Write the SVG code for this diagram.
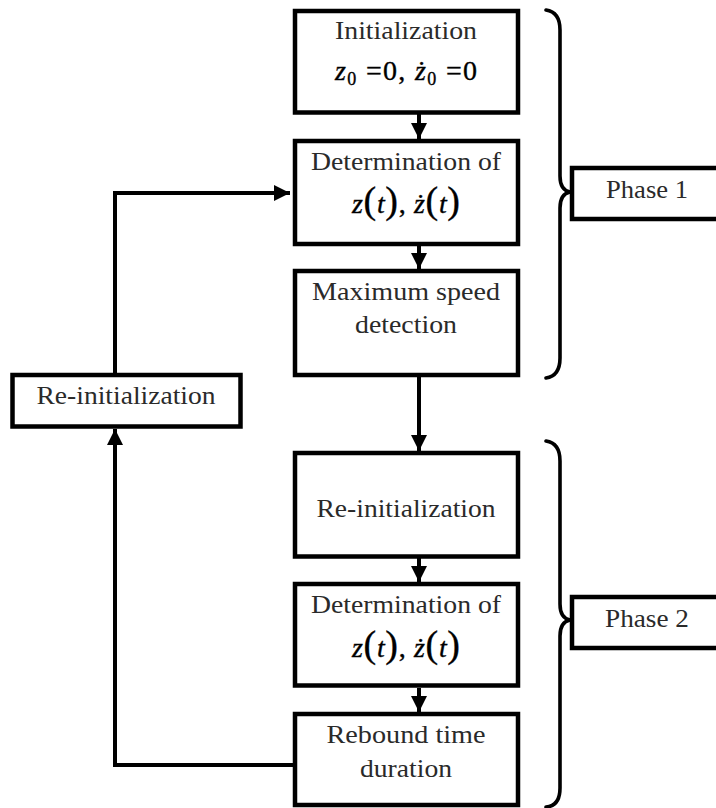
<svg xmlns="http://www.w3.org/2000/svg" width="716" height="808" viewBox="0 0 716 808">
  <style>
    .box { fill: #fff; stroke: #000; stroke-width: 4.5; }
    .lbl { font-family: "Liberation Serif", "Times New Roman", serif; font-size: 26px; fill: #2a2a2a; text-anchor: middle; }
    .math { font-family: "Liberation Serif", "Times New Roman", serif; font-size: 28px; fill: #000; stroke: #000; stroke-width: 0.35; text-anchor: middle; }
    .it { font-style: italic; }
    .par { font-size: 38px; }
    .sub { font-size: 18px; }
    .wire { fill: none; stroke: #000; stroke-width: 4; }
    .brace { fill: none; stroke: #000; stroke-width: 3.6; stroke-linecap: round; stroke-linejoin: round; }
  </style>
  <defs>
    <marker id="head" viewBox="0 0 16 16" refX="16" refY="8" markerWidth="16" markerHeight="16" markerUnits="userSpaceOnUse" orient="auto">
      <path d="M0,0 L16,8 L0,16 Z" fill="#000"/>
    </marker>
  </defs>

  <!-- connectors -->
  <g id="connectors">
    <line class="wire" x1="419" y1="114" x2="419" y2="139" marker-end="url(#head)"/>
    <line class="wire" x1="419" y1="246" x2="419" y2="269" marker-end="url(#head)"/>
    <line class="wire" x1="419" y1="377" x2="419" y2="451" marker-end="url(#head)"/>
    <line class="wire" x1="419" y1="558" x2="419" y2="582" marker-end="url(#head)"/>
    <line class="wire" x1="419" y1="688" x2="419" y2="712" marker-end="url(#head)"/>
    <polyline class="wire" points="293,765 115,765 115,429" marker-end="url(#head)"/>
    <polyline class="wire" points="115,373 115,193 290,193" marker-end="url(#head)"/>
  </g>

  <!-- phase 1 -->
  <g id="init">
    <rect class="box" x="295" y="11" width="223" height="101.5"/>
    <text class="lbl" x="406" y="39" textLength="142" lengthAdjust="spacingAndGlyphs">Initialization</text>
    <text class="math" x="406" y="80" textLength="142" lengthAdjust="spacing"><tspan class="it">z</tspan><tspan class="sub" dy="5">0</tspan><tspan dy="-5"> =0,  </tspan><tspan class="it">ż</tspan><tspan class="sub" dy="5">0</tspan><tspan dy="-5"> =0</tspan></text>
  </g>

  <g id="determine1">
    <rect class="box" x="295" y="141" width="223" height="103"/>
    <text class="lbl" x="406" y="170" textLength="190" lengthAdjust="spacingAndGlyphs">Determination of</text>
    <text class="math" x="406" y="213" textLength="108" lengthAdjust="spacing"><tspan class="it">z</tspan><tspan class="par">(</tspan><tspan class="it">t</tspan><tspan class="par">)</tspan><tspan>, </tspan><tspan class="it">ż</tspan><tspan class="par">(</tspan><tspan class="it">t</tspan><tspan class="par">)</tspan></text>
  </g>

  <g id="maxspeed">
    <rect class="box" x="295" y="271" width="223" height="104"/>
    <text class="lbl" x="406" y="300" textLength="188" lengthAdjust="spacingAndGlyphs">Maximum speed</text>
    <text class="lbl" x="406" y="333" textLength="102" lengthAdjust="spacingAndGlyphs">detection</text>
  </g>

  <!-- phase 2 -->
  <g id="reinit2">
    <rect class="box" x="295" y="453" width="223" height="103.5"/>
    <text class="lbl" x="406" y="517" textLength="179" lengthAdjust="spacingAndGlyphs">Re-initialization</text>
  </g>

  <g id="determine2">
    <rect class="box" x="295" y="584" width="223" height="101.5"/>
    <text class="lbl" x="406" y="613" textLength="190" lengthAdjust="spacingAndGlyphs">Determination of</text>
    <text class="math" x="406" y="657" textLength="108" lengthAdjust="spacing"><tspan class="it">z</tspan><tspan class="par">(</tspan><tspan class="it">t</tspan><tspan class="par">)</tspan><tspan>, </tspan><tspan class="it">ż</tspan><tspan class="par">(</tspan><tspan class="it">t</tspan><tspan class="par">)</tspan></text>
  </g>

  <g id="rebound">
    <rect class="box" x="295" y="714" width="223" height="91"/>
    <text class="lbl" x="406" y="743" textLength="159" lengthAdjust="spacingAndGlyphs">Rebound time</text>
    <text class="lbl" x="406" y="777" textLength="92" lengthAdjust="spacingAndGlyphs">duration</text>
  </g>

  <!-- feedback box -->
  <g id="reinit-loop">
    <rect class="box" x="12.5" y="375" width="228" height="51.5"/>
    <text class="lbl" x="126" y="404" textLength="179" lengthAdjust="spacingAndGlyphs">Re-initialization</text>
  </g>

  <!-- phase brackets -->
  <g id="phase1">
    <path class="brace" d="M546,10 Q560,12 560,30 L560,176 Q560,190 570,192 Q560,194 560,208 L560,358 Q560,376 546,378"/>
    <rect class="box" x="572" y="168" width="160" height="51"/>
    <text class="lbl" x="647" y="198" textLength="82" lengthAdjust="spacingAndGlyphs">Phase 1</text>
  </g>

  <g id="phase2">
    <path class="brace" d="M546,441 Q560,443 560,461 L560,604 Q560,618 570,620 Q560,622 560,636 L560,788 Q560,806 546,807"/>
    <rect class="box" x="572" y="597" width="160" height="51"/>
    <text class="lbl" x="647" y="627" textLength="84" lengthAdjust="spacingAndGlyphs">Phase 2</text>
  </g>
</svg>
